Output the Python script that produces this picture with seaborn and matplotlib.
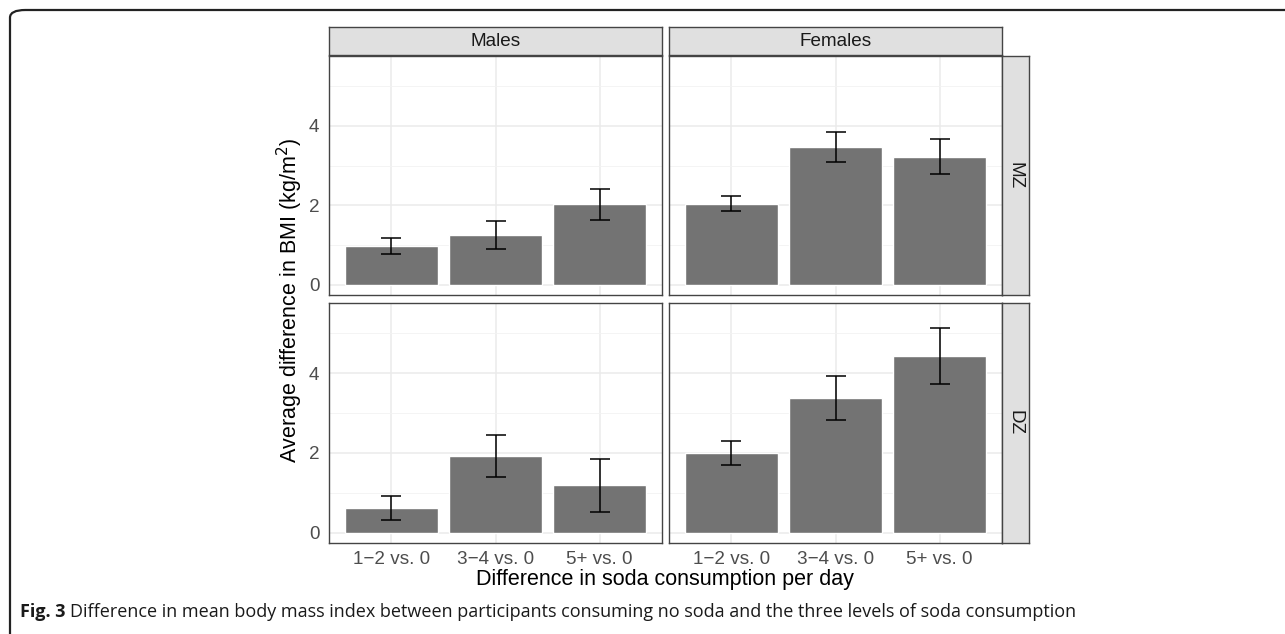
import numpy as np
import pandas as pd
import matplotlib
matplotlib.use('Agg')
import matplotlib.pyplot as plt
from matplotlib.patches import FancyBboxPatch
import seaborn as sns

# Data
sexes = ['Males', 'Females']
zygosity = ['MZ', 'DZ']
levels = ['1\u22122 vs. 0', '3\u22124 vs. 0', '5+ vs. 0']

mz_males = [0.98, 1.26, 2.04]
mz_males_lo = [0.77, 0.91, 1.64]
mz_males_hi = [1.17, 1.60, 2.42]
mz_females = [2.04, 3.47, 3.22]
mz_females_lo = [1.85, 3.09, 2.78]
mz_females_hi = [2.24, 3.84, 3.66]
dz_males = [0.61, 1.92, 1.19]
dz_males_lo = [0.31, 1.40, 0.53]
dz_males_hi = [0.92, 2.45, 1.85]
dz_females = [1.99, 3.38, 4.44]
dz_females_lo = [1.69, 2.83, 3.72]
dz_females_hi = [2.30, 3.93, 5.14]

rows = []
for zyg, sex, m, lo, hi in [('MZ', 'Males', mz_males, mz_males_lo, mz_males_hi),
                            ('MZ', 'Females', mz_females, mz_females_lo, mz_females_hi),
                            ('DZ', 'Males', dz_males, dz_males_lo, dz_males_hi),
                            ('DZ', 'Females', dz_females, dz_females_lo, dz_females_hi)]:
    for lev, v, l, h in zip(levels, m, lo, hi):
        rows.append({'zyg': zyg, 'sex': sex, 'level': lev, 'diff': v, 'lo': l, 'hi': h})
df = pd.DataFrame(rows)

sns.set_style('white')
plt.rcParams['font.family'] = ['Liberation Sans', 'DejaVu Sans']

W, H = 1285, 634
fig = plt.figure(figsize=(W / 100, H / 100), dpi=100)

def px_axes(x0, y0, x1, y1):
    return fig.add_axes([x0 / W, 1 - y1 / H, (x1 - x0) / W, (y1 - y0) / H])

col_x = [(329, 662), (669, 1002)]
row_y = [(56, 295), (303, 543)]
border = '#444444'
tick_col = '#4D4D4D'
small = 13.6

def style_box(a):
    a.set_facecolor('#E0E0E0')
    a.set_xticks([])
    a.set_yticks([])
    for s in a.spines.values():
        s.set_visible(True)
        s.set_color(border)
        s.set_linewidth(1.0)

for i, zyg in enumerate(zygosity):
    for j, sex in enumerate(sexes):
        ax = px_axes(col_x[j][0], row_y[i][0], col_x[j][1], row_y[i][1])
        sub = df[(df.zyg == zyg) & (df.sex == sex)]
        sns.barplot(data=sub, x='level', y='diff', order=levels, color='#737373',
                    saturation=1, width=0.9, errorbar=None, ax=ax, zorder=2)
        ax.errorbar(np.arange(3), sub['diff'].values,
                    yerr=[sub['diff'].values - sub['lo'].values, sub['hi'].values - sub['diff'].values],
                    fmt='none', ecolor='black', elinewidth=1.1, capsize=7.2, capthick=1.1, zorder=3)
        ax.set_xlim(-0.6, 2.6)
        ax.set_ylim(-0.26, 5.76)
        ax.set_yticks([0, 2, 4])
        ax.set_yticks([1, 3, 5], minor=True)
        ax.set_xticks([0, 1, 2])
        ax.grid(True, which='major', color='#EBEBEB', lw=1.1, zorder=0)
        ax.grid(True, which='minor', axis='y', color='#F2F2F2', lw=0.6, zorder=0)
        ax.set_axisbelow(True)
        ax.set_xlabel('')
        ax.set_ylabel('')
        for s in ax.spines.values():
            s.set_visible(True)
            s.set_color(border)
            s.set_linewidth(1.0)
        ax.tick_params(which='both', length=0)
        if j == 0:
            ax.tick_params(axis='y', which='major', length=4, width=0.8, color=border,
                           labelsize=small, labelcolor=tick_col, pad=3)
        else:
            ax.set_yticklabels([])
        if i == 1:
            ax.set_xticklabels(levels)
            ax.tick_params(axis='x', which='major', length=4, width=0.8, color=border,
                           labelsize=small, labelcolor=tick_col, pad=2)
        else:
            ax.set_xticklabels([])

        # column strips
        if i == 0:
            sax = px_axes(col_x[j][0], 27, col_x[j][1], 55)
            style_box(sax)
            sax.text(0.5, 0.5, sex, ha='center', va='center', fontsize=small,
                     color='#1A1A1A', transform=sax.transAxes)
        # row strips
        if j == 1:
            rax = px_axes(1002, row_y[i][0], 1029, row_y[i][1])
            style_box(rax)
            rax.text(0.5, 0.5, zyg, ha='center', va='center', fontsize=small,
                     rotation=-90, color='#1A1A1A', transform=rax.transAxes)

fig.text(290 / W, 1 - 300 / H, 'Average difference in BMI (kg/m$^2$)', rotation=90,
         ha='center', va='center', fontsize=15.5, color='black')
fig.text(665 / W, 1 - 580 / H, 'Difference in soda consumption per day',
         ha='center', va='center', fontsize=15.5, color='black')

# caption
cap_y = 1 - 612 / H
cap = fig.text(20 / W, cap_y, 'Fig. 3', ha='left', va='center', fontsize=13.0,
               fontweight='bold', family=['Open Sans', 'DejaVu Sans'], color='#1A1A1A')
fig.canvas.draw()
bb = cap.get_window_extent()
fig.text((bb.x1 + 5) / W, cap_y,
         'Difference in mean body mass index between participants consuming no soda and the three levels of soda consumption',
         ha='left', va='center', fontsize=13.0, family=['Open Sans', 'DejaVu Sans'], color='#1A1A1A')

# outer rounded frame
frame = FancyBboxPatch((10 / W, -0.2), 1.3, 1 - 10 / H + 0.2,
                       boxstyle='round,pad=0,rounding_size=0.012', transform=fig.transFigure,
                       fill=False, edgecolor='#222222', lw=1.6, clip_on=False)
fig.patches.append(frame)

fig.savefig('out.png', dpi=100)
